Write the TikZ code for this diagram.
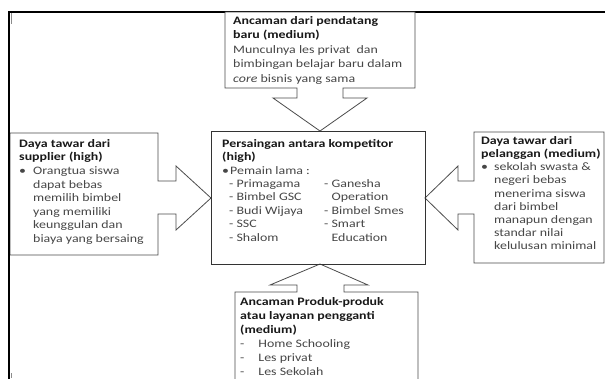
\documentclass[tikz,border=0pt]{standalone}
\usepackage{fontspec}
\setmainfont{Carlito}[FakeStretch=1.22]
\begin{document}
\begin{tikzpicture}[x=1pt,y=-1pt,
  callout/.style={draw=black!70,line width=0.8pt,fill=white,line join=miter},
  frameline/.style={draw=black,line width=2.2pt},
  txt/.style={anchor=north west,inner sep=0pt,align=left,text=black!72,
    font=\fontsize{11.4}{13.6}\selectfont}]
\useasboundingbox (0,0) rectangle (605,378);
\fill[white] (0,0) rectangle (605,378);
% frame
\draw[frameline] (9,379) -- (9,12) -- (606,12);
\draw[black!45,line width=0.6pt] (11,13) -- (11,24);
\draw[black!45,line width=0.6pt] (11,373) -- (11,378);
% top callout
\draw[callout] (225,12) -- (415,12) -- (415,88) -- (343,88) -- (343,98) -- (367,98)
  -- (320,131) -- (273,98) -- (297,98) -- (297,88) -- (225,88) -- cycle;
% left callout
\draw[callout] (10,133) -- (158,133) -- (158,181) -- (176,181) -- (176,166) -- (211,198)
  -- (176,230) -- (176,214) -- (158,214) -- (158,255) -- (10,255) -- cycle;
% right callout
\draw[callout] (604,132) -- (474,132) -- (474,181) -- (458,181) -- (458,166) -- (425,198)
  -- (458,230) -- (458,214) -- (474,214) -- (474,263) -- (604,263) -- cycle;
% bottom callout
\draw[callout] (235,380) -- (235,292) -- (297,292) -- (297,285) -- (270,285) -- (320,264)
  -- (368,285) -- (344,285) -- (344,292) -- (418,292) -- (418,380);
% center box
\node[draw=black!80,line width=0.8pt,minimum width=214pt,minimum height=133pt,anchor=north west,inner sep=0pt] (center) at (211,131) {};
\draw[frameline] (9,379) -- (9,12);

% texts
\node[txt,font=\fontsize{11.4}{14.5}\selectfont] (toptxt) at (233,16) {{\bfseries\color{black!90}Ancaman dari pendatang}\\
  {\bfseries\color{black!90}baru (medium)}\\
  Munculnya les privat\ \ dan\\
  bimbingan belajar baru dalam\\
  \textit{core} bisnis yang sama};
\node[txt] (lefttxt) at (19,139) {{\bfseries\color{black!90}Daya tawar dari}\\
  {\bfseries\color{black!90}supplier (high)}\\
  \makebox[14pt][l]{\textbullet}Orangtua siswa\\
  \hspace*{14pt}dapat bebas\\
  \hspace*{14pt}memilih bimbel\\
  \hspace*{14pt}yang memiliki\\
  \hspace*{14pt}keunggulan dan\\
  \hspace*{14pt}biaya yang bersaing};
\node[txt,font=\fontsize{11.4}{13.2}\selectfont] (righttxt) at (481,136) {{\bfseries\color{black!90}Daya tawar dari}\\
  {\bfseries\color{black!90}pelanggan (medium)}\\
  \makebox[13pt][l]{\textbullet}sekolah swasta \&\\
  \hspace*{13pt}negeri bebas\\
  \hspace*{13pt}menerima siswa\\
  \hspace*{13pt}dari bimbel\\
  \hspace*{13pt}manapun dengan\\
  \hspace*{13pt}standar nilai\\
  \hspace*{13pt}kelulusan minimal};
\node[txt] (centertxt) at (222,139) {{\bfseries\color{black!90}Persaingan antara kompetitor}\\
  {\bfseries\color{black!90}(high)}\\
  \makebox[8pt][l]{\textbullet}Pemain lama :};
\node[txt] (colA) at (229,179) {- Primagama\\ - Bimbel GSC\\ - Budi Wijaya\\ - SSC\\ - Shalom};
\node[txt] (colB) at (324,179) {- Ganesha\\ \phantom{- }Operation\\ - Bimbel Smes\\ - Smart\\ \phantom{- }Education};
\node[txt,font=\fontsize{11.4}{14}\selectfont] (bottxt) at (240,297) {{\bfseries\color{black!90}Ancaman Produk-produk}\\
  {\bfseries\color{black!90}atau layanan pengganti}\\
  {\bfseries\color{black!90}(medium)}\\
  -\hspace{14pt}Home Schooling\\
  -\hspace{14pt}Les privat\\
  -\hspace{14pt}Les Sekolah};
\end{tikzpicture}
\end{document}
